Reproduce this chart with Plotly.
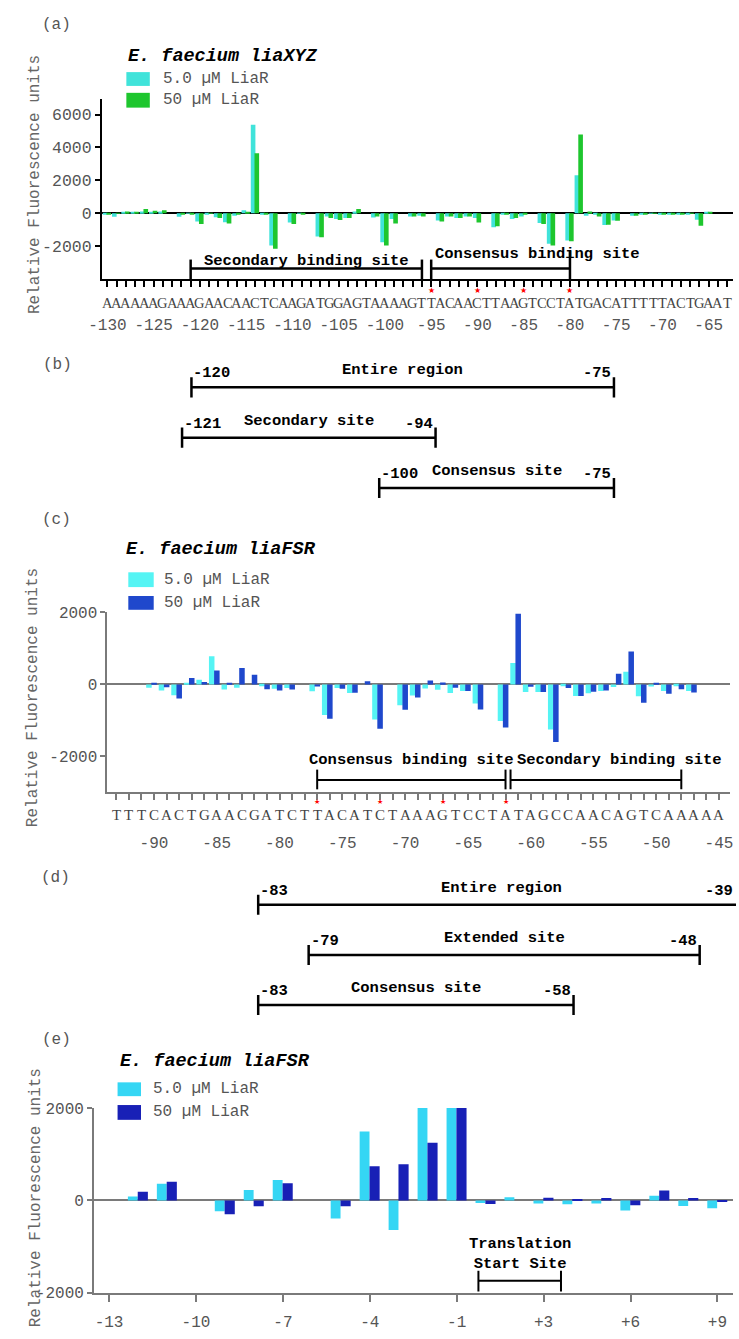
import plotly.graph_objects as go

W, H = 739, 1339
def fx(x): return x / W
def fy(y): return 1 - y / H

MONO = "Liberation Mono, Courier New, monospace"
SERIF = "Liberation Serif, Times New Roman, serif"
GRAY = "#555555"

# ---------------- (a) E. faecium liaXYZ ----------------
a_pos = list(range(-130, -62))
a_seq = "AAAAAAGAAAGAACAACTCAAGATGGAGTAAAAGTTACAACTTAAGTCCTATGACATTTTTACTGAAT"
a_low = [-50, -220, 30, 50, 100, 80, 100, 0, -220, -30,
         -500, -50, -250, -550, -150, 180, 5380, -50, -1960, 0,
         -560, -30, 0, -1420, -200, -350, -300, 100, 0, -260,
         -1760, -350, 0, -200, -150, 0, -450, -200, -300, -200,
         -300, 0, -860, -50, -350, -200, 0, -600, -1860, 0,
         -1660, 2300, -150, -100, -720, -450, 0, -150, -50, -30,
         -50, -50, -50, -50, -400, 30, 0, 0]
a_high = [-50, -30, 100, 80, 250, 150, 180, 0, -100, -50,
          -650, -30, -300, -620, -100, 80, 3650, -50, -2160, 0,
          -660, -80, 0, -1460, -300, -420, -300, 260, 0, -200,
          -1960, -620, 0, -200, -200, 0, -500, -200, -300, -200,
          -560, 0, -800, -50, -300, -100, 0, -650, -1960, 0,
          -1700, 4780, 100, -200, -700, -460, 0, -150, -50, -30,
          -50, -50, -50, -30, -760, 30, 0, 0]
a_stars = [-95, -90, -85, -80]
a_site_names = ["Secondary binding site", "Consensus binding site"]
a_site_start = [-121, -95]
a_site_end = [-96, -80]
a_yticks = [-2000, 0, 2000, 4000, 6000]

# ---------------- (b) schematic ----------------
b_names = ["Entire region", "Secondary site", "Consensus site"]
b_start = [-120, -121, -100]
b_end = [-75, -94, -75]

# ---------------- (c) E. faecium liaFSR ----------------
c_pos = list(range(-93, -43))
c_seq = "TTTCACTGAACGATCTTACATCTAAAGTCCTATAGCCAACAGTCAAAAAA"
c_low = [0, 0, 0, -90, -165, -300, 20, 130, 785, -140,
         -90, 0, -50, -120, -100, 0, -190, -850, -100, -240,
         0, -970, 0, -580, -310, -110, -145, -240, -180, -530,
         0, -1015, 595, -210, -210, -1250, -50, -320, -245, -180,
         -70, 355, -330, -60, -180, -50, -180, 0, 0, 0]
c_high = [0, 0, 0, 20, -80, -390, 180, 70, 390, 20,
          455, 270, -130, -170, -140, 0, -60, -950, -120, -230,
          90, -1230, 0, -700, -360, 110, 55, -90, -180, -695,
          0, -1195, 1965, -65, -210, -1600, -100, -320, -200, -165,
          300, 915, -510, 30, -255, -130, -220, 0, 0, 0]
c_stars = [-77, -72, -67, -62]
c_site_names = ["Consensus binding site", "Secondary binding site"]
c_site_start = [-77, -61.6]
c_site_end = [-62, -48]
c_yticks = [-2000, 0, 2000]

# ---------------- (d) schematic ----------------
d_names = ["Entire region", "Extended site", "Consensus site"]
d_start = [-83, -79, -83]
d_end = [-39, -48, -58]

# ---------------- (e) E. faecium liaFSR ----------------
e_cats = ["-13", "-12", "-11", "-10", "-9", "-8", "-7", "-6", "-5", "-4", "-3",
          "-2", "-1", "+1", "+2", "+3", "+4", "+5", "+6", "+7", "+8", "+9"]
e_low = [0, 85, 360, 0, -235, 227, 440, 0, -390, 1490, -640,
         2000, 2000, -57, 70, -70, -85, -70, -220, 100, -120, -170]
e_high = [0, 185, 405, 0, -300, -128, 370, 0, -128, 738, 780,
          1250, 2000, -78, 0, 57, 20, 50, -106, 213, 50, -28]
e_ticks = ["-13", "-10", "-7", "-4", "-1", "+3", "+6", "+9"]
e_site_name = "Translation<br>Start Site"
e_site_range = [12.75, 15.6]
e_yticks = [-2000, 0, 2000]

series_names = ["5.0 \u00b5M LiaR", "50 \u00b5M LiaR"]
COL_A = ["#40E3DA", "#1EC62E"]
COL_C = ["#55F4F4", "#1F48CC"]
COL_E = ["#35D6F4", "#1820B6"]

B_RANGE = [-138.9, -62.0]
D_RANGE = [-102.36, -45.12]

fig = go.Figure()

def add_bars(x, ys, xa, ya, cols, widths, offsets):
    for y, c, w, o, n in zip(ys, cols, widths, offsets, series_names):
        fig.add_trace(go.Bar(x=x, y=y, xaxis=xa, yaxis=ya, name=n,
                             marker=dict(color=c, line=dict(width=0)),
                             width=w, offset=o, showlegend=False))

add_bars(a_pos, [a_low, a_high], "x", "y", COL_A, [0.5, 0.5], [-0.5, -0.1])
add_bars(c_pos, [c_low, c_high], "x2", "y2", COL_C, [0.44, 0.44], [-0.62, -0.21])
add_bars(e_cats, [e_low, e_high], "x3", "y3", COL_E, [0.34, 0.35], [-0.35, -0.01])

# schematic brackets (b) and (d) as line traces
def bracket_trace(starts, ends, xa, ya):
    xs, ys = [], []
    for r, (s, e) in enumerate(zip(starts, ends)):
        xs += [s, s, None, s, e, None, e, e, None]
        ys += [r - 0.2, r + 0.2, None, r, r, None, r - 0.2, r + 0.2, None]
    fig.add_trace(go.Scatter(x=xs, y=ys, xaxis=xa, yaxis=ya, mode="lines",
                             line=dict(color="black", width=2.5),
                             showlegend=False, hoverinfo="skip"))

bracket_trace(b_start, b_end, "x4", "y4")
bracket_trace(d_start, d_end, "x5", "y5")

def xaxis(domain, rng, anchor, color, lw, tickvals, ticktext, ticklen, standoff, **kw):
    d = dict(domain=domain, range=rng, anchor=anchor, showline=True, linecolor=color,
             linewidth=lw, ticks="outside", ticklen=ticklen, tickwidth=1.5,
             tickcolor=color, tickmode="array", tickvals=tickvals, ticktext=ticktext,
             tickfont=dict(family=MONO, size=16, color=GRAY), showgrid=False,
             zeroline=False, ticklabelstandoff=standoff, fixedrange=True)
    d.update(kw)
    return d

def yaxis(domain, rng, anchor, color, lw, tickvals, zc, zw, size=16):
    return dict(domain=domain, range=rng, anchor=anchor, showline=True, linecolor=color,
                linewidth=lw, ticks="outside", ticklen=5, tickwidth=1.5, tickcolor=color,
                tickmode="array", tickvals=tickvals, ticktext=[str(v) for v in tickvals],
                tickfont=dict(family=MONO, size=size, color=GRAY), showgrid=False,
                zeroline=True, zerolinecolor=zc, zerolinewidth=zw, fixedrange=True)

layout = dict(
    width=W, height=H, margin=dict(l=0, r=0, t=0, b=0),
    paper_bgcolor="white", plot_bgcolor="rgba(0,0,0,0)",
    barmode="overlay", showlegend=False,
    xaxis=xaxis([fx(90), fx(736)], [-130.59, -62.37], "y", "black", 2,
                a_pos, [str(p) if p % 5 == 0 else "" for p in a_pos], 6, 24),
    yaxis=yaxis([fy(276), fy(93)], [-4020, 6960], "x", "black", 2, a_yticks, "black", 2, 16.5),
    xaxis2=xaxis([fx(95.7), fx(733)], [-93.70, -44.11], "y2", "#7a7a7a", 2,
                 c_pos, [str(p) if p % 5 == 0 else "" for p in c_pos], 6, 29),
    yaxis2=yaxis([fy(796), fy(613)], [-2995, 2019], "x2", "#7a7a7a", 2, c_yticks, "#7a7a7a", 1.5),
    xaxis3=xaxis([fx(81.7), fx(736)], [-0.526, 21.54], "y3", "#7a7a7a", 1.5,
                 e_ticks, e_ticks, 7, 6, type="category", categoryorder="array",
                 categoryarray=e_cats),
    yaxis3=yaxis([fy(1303.3), fy(1116)], [-2000, 2000], "x3", "#7a7a7a", 1.5, e_yticks, "#7a7a7a", 1.5),
    xaxis4=dict(domain=[0, 1], range=B_RANGE, anchor="y4", visible=False, fixedrange=True),
    yaxis4=dict(domain=[fy(513), fy(360)], range=[2.5, -0.5], anchor="x4", visible=False, fixedrange=True),
    xaxis5=dict(domain=[0, 1], range=D_RANGE, anchor="y5", visible=False, fixedrange=True),
    yaxis5=dict(domain=[fy(1037.1), fy(884.6)], range=[2.5, -0.5], anchor="x5", visible=False, fixedrange=True),
)

ann = []
def text(x, y, s, xref="paper", yref="paper", size=16, color=GRAY, family=MONO,
         xanchor="center", yanchor="middle", angle=0, **kw):
    ann.append(dict(x=x, y=y, text=s, xref=xref, yref=yref, showarrow=False,
                    font=dict(size=size, color=color, family=family),
                    xanchor=xanchor, yanchor=yanchor, textangle=angle, **kw))

shapes = []
def seg(x0, x1, y0, y1, xref="paper", color="black", w=2.5):
    shapes.append(dict(type="line", x0=x0, x1=x1, y0=y0, y1=y1, xref=xref, yref="paper",
                       line=dict(color=color, width=w)))

def rect(x0, x1, y0, y1, color):
    shapes.append(dict(type="rect", x0=fx(x0), x1=fx(x1), y0=fy(y1), y1=fy(y0),
                       xref="paper", yref="paper", fillcolor=color, line=dict(width=0)))

# panel labels
for lab, (x, y) in zip(["(a)", "(b)", "(c)", "(d)", "(e)"],
                       [(44, 18), (45, 363), (44, 520), (42, 883), (44, 1047)]):
    text(fx(x), fy(y), lab, size=16)

# titles
for t, (x, y) in zip(["E. faecium liaXYZ", "E. faecium liaFSR", "E. faecium liaFSR"],
                     [(115, 50), (113, 550), (106, 1069)]):
    text(fx(x), fy(y), "<b><i>" + t + "</i></b>", size=18.5, color="black", xanchor="left")

# legends
for cols, bx, rows, tx in [(COL_A, (115, 139), [(66, 80), (87, 102)], 150),
                           (COL_C, (117, 143), [(573, 588), (597, 611)], 151),
                           (COL_E, (106, 130), [(1090, 1104), (1113, 1128)], 140)]:
    for c, (y0, y1), n in zip(cols, rows, series_names):
        rect(bx[0], bx[1], y0, y1, c)
        text(fx(tx), fy((y0 + y1) / 2), n, size=16, xanchor="left")

# y-axis titles
for x, y in [(21, 180), (19, 700), (22, 1207)]:
    text(fx(x), fy(y), "Relative Fluorescence units", size=16, color="#666666", angle=-90)

# sequences and stars
for p, ch in zip(a_pos, a_seq):
    text(p, fy(300), ch, xref="x", size=14.5, color="#444444", family=SERIF)
for p in a_stars:
    text(p, fy(287), "\u2605", xref="x", size=8, color="red", family="DejaVu Sans")
for p, ch in zip(c_pos, c_seq):
    text(p, fy(819), ch, xref="x2", size=15, color="#444444", family=SERIF)
for p in c_stars:
    text(p, fy(805.5), "\u2605", xref="x2", size=7, color="red", family="DejaVu Sans")

# site brackets in (a)
for i, (n, s, e) in enumerate(zip(a_site_names, a_site_start, a_site_end)):
    seg(s, e, fy(265), fy(265), xref="x")
    seg(s, s, fy(256), fy(276), xref="x")
    seg(e, e, fy(247 if i == 1 else 256), fy(276), xref="x")
    if i == 0:
        text((s + e) / 2, fy(257), "<b>" + n + "</b>", xref="x", size=15.5, color="black")
    else:
        text(s, fy(250), "<b>" + n + "</b>", xref="x", size=15.5, color="black",
             xanchor="left", xshift=2)

# site brackets in (c)
for i, (n, s, e) in enumerate(zip(c_site_names, c_site_start, c_site_end)):
    seg(s, e, fy(783.5), fy(783.5), xref="x2", w=2)
    seg(s, s, fy(773), fy(793), xref="x2", w=2)
    seg(e, e, fy(773), fy(793), xref="x2", w=2)
    if i == 0:
        text((s + e) / 2, fy(763), "<b>" + n + "</b>", xref="x2", size=15.5, color="black")
    else:
        text(s, fy(763), "<b>" + n + "</b>", xref="x2", size=15.5, color="black",
             xanchor="left", xshift=4)

# translation start site (e)
s, e = e_site_range
seg(s, e, fy(1291), fy(1291), xref="x3", w=2)
seg(s, s, fy(1281), fy(1302), xref="x3", w=2)
seg(e, e, fy(1281), fy(1302), xref="x3", w=2)
text((s + e) / 2, fy(1264), "<b>" + e_site_name + "</b>", xref="x3", size=15.5, color="black")

# schematic labels (ends running past the page edge are labelled at the edge)
EDGE = W - 1
for names, starts, ends, xr, yr, rng in [(b_names, b_start, b_end, "x4", "y4", B_RANGE),
                                         (d_names, d_start, d_end, "x5", "y5", D_RANGE)]:
    to_px = lambda v: (v - rng[0]) / (rng[1] - rng[0]) * W
    for r, (n, s, e) in enumerate(zip(names, starts, ends)):
        sp, ep = to_px(s), min(to_px(e), W + 8)
        text(fx((sp + ep) / 2), r, "<b>" + n + "</b>", yref=yr, size=15.5,
             color="black", yshift=17)
        text(s, r, "<b>" + str(s) + "</b>", xref=xr, yref=yr, size=15.5, color="black",
             xanchor="left", yshift=14)
        if to_px(e) <= W:
            text(e, r, "<b>" + str(e) + "</b>", xref=xr, yref=yr, size=15.5, color="black",
                 xanchor="right", yshift=14, xshift=-1)
        else:
            text(fx(EDGE), r, "<b>" + str(e) + "</b>", yref=yr, size=15.5, color="black",
                 xanchor="right", yshift=14)

layout["annotations"] = ann
layout["shapes"] = shapes
fig.update_layout(**layout)
fig.write_html("out.html", config={"displayModeBar": False},
               post_script="document.body.style.margin='0px';")
